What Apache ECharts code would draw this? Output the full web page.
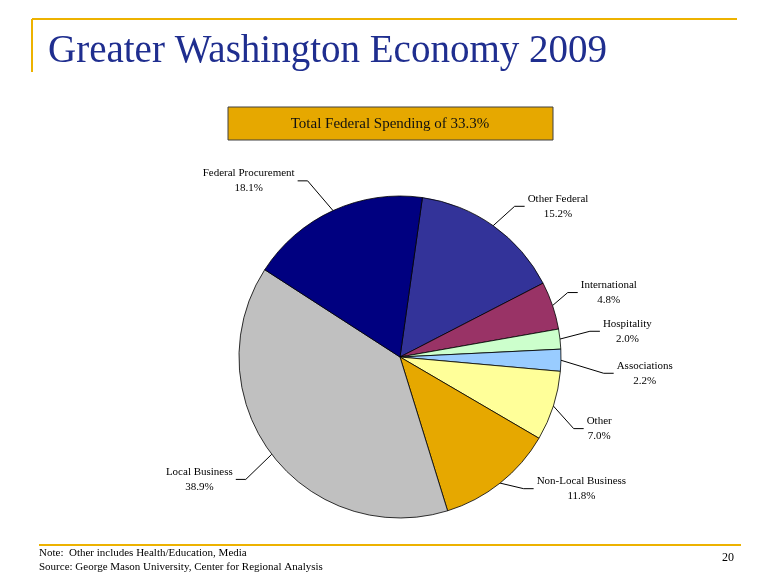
<!DOCTYPE html>
<html>
<head>
<meta charset="utf-8">
<script src="https://cdn.jsdelivr.net/npm/echarts@6/dist/echarts.min.js"></script>
<style>html,body{margin:0;padding:0;background:#fff}#c{width:780px;height:585px}</style>
</head>
<body>
<div id="c"></div>
<script>
const categories = ['Other Federal','International','Hospitality','Associations','Other','Non-Local Business','Local Business','Federal Procurement'];
const values = [15.2, 4.8, 2.0, 2.2, 7.0, 11.8, 38.9, 18.1];
const colors = ['#333399','#993366','#CCFFCC','#99CCFF','#FFFF99','#E6A800','#C0C0C0','#000080'];
const titleText = 'Greater Washington Economy 2009';
const boxText = 'Total Federal Spending of 33.3%';
const noteLines = ['Note:  Other includes Health/Education, Media','Source: George Mason University, Center for Regional Analysis'];
const pageNum = '20';

// label nudges (style only): [dx, dy] relative to library's default label placement
const labelNudge = [[5,1],[-6,-5],[8,-5],[21,5],[-1,15],[6,-14],[-4,10],[-13,-7]];

const serif = '"Liberation Serif","Times New Roman",serif';
const gold = '#EDB200';

const chart = echarts.init(document.getElementById('c'), null, {renderer:'canvas'});
const data = categories.map((n,i)=>({name:n, value:values[i], itemStyle:{color:colors[i]}}));

chart.setOption({
  animation:false,
  backgroundColor:'#ffffff',
  graphic:[
    {type:'line', shape:{x1:32,y1:19,x2:737,y2:19}, style:{stroke:gold,lineWidth:2}},
    {type:'line', shape:{x1:32,y1:19,x2:32,y2:72}, style:{stroke:gold,lineWidth:2}},
    {type:'line', shape:{x1:39,y1:545,x2:741,y2:545}, style:{stroke:gold,lineWidth:2}},
    {type:'text', x:48, y:52, style:{text:titleText, font:'39px '+serif, fill:'#1F2E8F', verticalAlign:'middle'}},
    {type:'rect', shape:{x:228,y:107,width:325,height:33}, style:{fill:'#E6A800', stroke:'#404040', lineWidth:1}},
    {type:'text', x:390, y:124, style:{text:boxText, font:'15px '+serif, fill:'#111', align:'center', verticalAlign:'middle'}},
    {type:'text', x:39, y:553, style:{text:noteLines[0], font:'11px '+serif, fill:'#000', verticalAlign:'middle'}},
    {type:'text', x:39, y:567, style:{text:noteLines[1], font:'11px '+serif, fill:'#000', verticalAlign:'middle'}},
    {type:'text', x:722, y:558, style:{text:pageNum, font:'12px '+serif, fill:'#000', verticalAlign:'middle'}}
  ],
  series:[{
    type:'pie',
    center:[400,357],
    radius:161,
    startAngle:82,
    clockwise:true,
    avoidLabelOverlap:true,
    data:data,
    itemStyle:{borderColor:'#000',borderWidth:0.8},
    label:{
      show:true, position:'outside', color:'#000', fontFamily:serif, fontSize:11, lineHeight:15,
      formatter:p=>'{a|'+p.name+'}\n{a|'+p.value.toFixed(1)+'%}',
      rich:{a:{align:'center', fontFamily:serif, fontSize:11, color:'#000', lineHeight:15}}
    },
    labelLine:{show:true, length:25, length2:10, lineStyle:{color:'#000', width:1}},
    labelLayout:function(params){
      const nd = labelNudge[params.dataIndex] || [0,0];
      const r = params.labelRect;
      const pts = params.labelLinePoints;
      if(!pts) return {dx:nd[0], dy:nd[1]};
      const p0 = pts[0];
      const cy = r.y + nd[1] + r.height/2;
      const right = (r.x + r.width/2) > p0[0];
      let endX, elbowX;
      if(right){ endX = r.x + nd[0] - 3; elbowX = endX - 10; }
      else { endX = r.x + r.width + nd[0] + 3; elbowX = endX + 10; }
      return {dx:nd[0], dy:nd[1], labelLinePoints:[[p0[0],p0[1]],[elbowX,cy],[endX,cy]]};
    },
    emphasis:{disabled:true}
  }]
});
</script>
</body>
</html>
